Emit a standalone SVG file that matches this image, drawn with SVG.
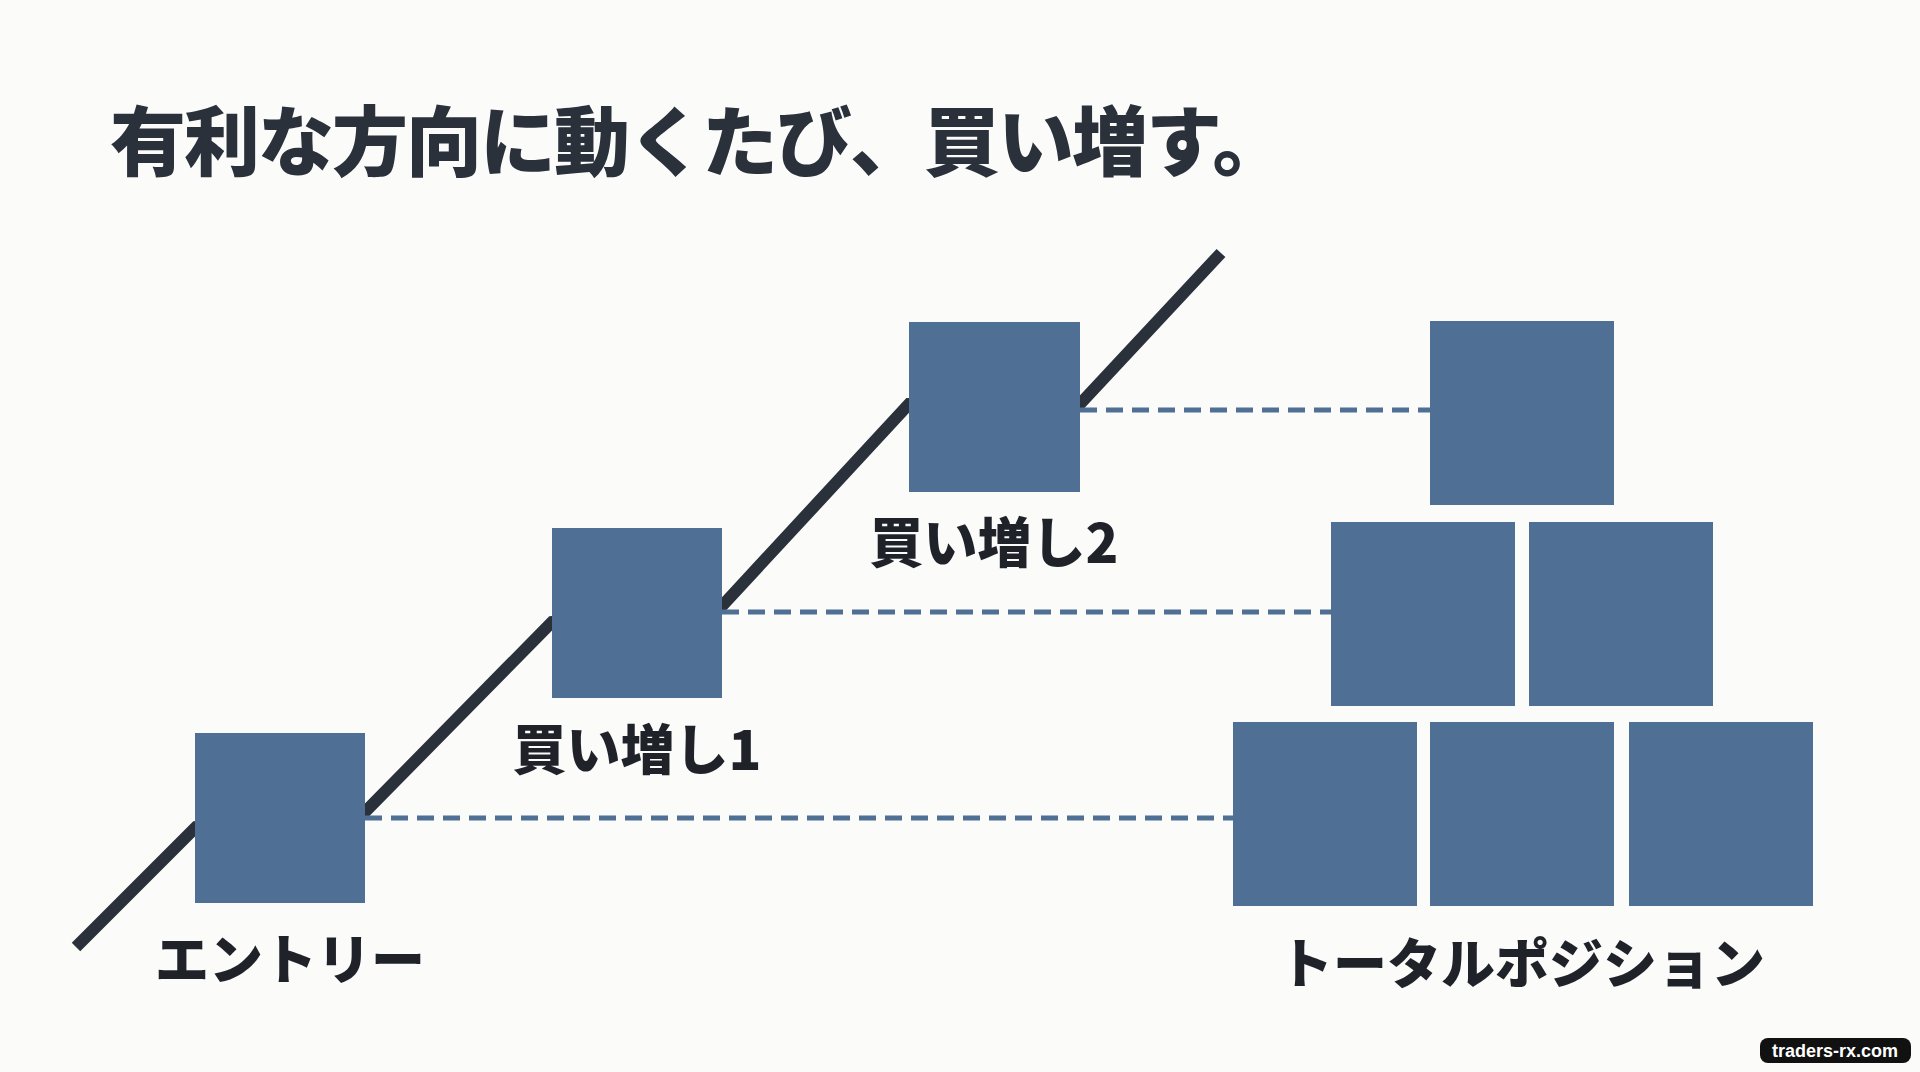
<svg xmlns="http://www.w3.org/2000/svg" width="1920" height="1072" viewBox="0 0 1920 1072">
<style>
.sq{fill:#4f6f94}
.lbl{font-family:"Noto Sans CJK JP","Noto Sans",sans-serif;font-weight:900;fill:#1f2329;font-size:54px;text-anchor:middle}
.dash{stroke:#4f6f94;stroke-width:5;stroke-dasharray:17 9;fill:none}
</style>
<rect width="1920" height="1072" fill="#fbfbfa"/>
<text x="110" y="170" font-family="Noto Sans CJK JP,sans-serif" font-weight="900" font-size="76" letter-spacing="-2" fill="#2a313b">有利な方向に動くたび、買い増す。</text>
<g id="connectors">
<polyline points="76,947 196,827 365,812 552,622 722,606 909,404 1080,404 1221,253" fill="none" stroke="#2a313b" stroke-width="12"/>
<line class="dash" x1="365" y1="818" x2="1233" y2="818"/>
<line class="dash" x1="722" y1="612" x2="1331" y2="612"/>
<line class="dash" x1="1080" y1="410" x2="1430" y2="410"/>
</g>
<g id="entry"><rect class="sq" x="195" y="733" width="170" height="170"/><text class="lbl" x="290" y="980">エントリー</text></g>
<g id="add1"><rect class="sq" x="552" y="528" width="170" height="170"/><text class="lbl" x="637" y="770">買い増し1</text></g>
<g id="add2"><rect class="sq" x="909" y="322" width="171" height="170"/><text class="lbl" x="994" y="563">買い増し2</text></g>
<g id="total">
<rect class="sq" x="1430" y="321" width="184" height="184"/>
<rect class="sq" x="1331" y="522" width="184" height="184"/>
<rect class="sq" x="1529" y="522" width="184" height="184"/>
<rect class="sq" x="1233" y="722" width="184" height="184"/>
<rect class="sq" x="1430" y="722" width="184" height="184"/>
<rect class="sq" x="1629" y="722" width="184" height="184"/>
<text class="lbl" x="1522" y="984">トータルポジション</text>
</g>
<g id="watermark"><rect x="1760" y="1038" width="151" height="25" rx="8" fill="#111"/><text x="1835" y="1057" font-family="Liberation Sans,sans-serif" font-weight="bold" font-size="18" fill="#fff" text-anchor="middle">traders-rx.com</text></g>
</svg>
